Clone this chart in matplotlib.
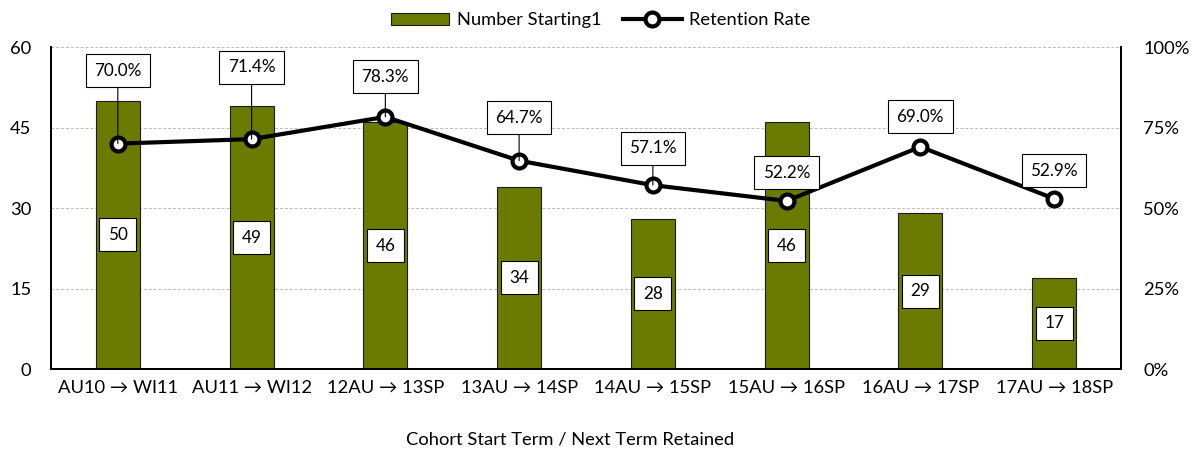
import matplotlib
matplotlib.use("Agg")
import matplotlib.pyplot as plt
from matplotlib.ticker import FuncFormatter

plt.rcParams['font.family'] = ['Lato', 'DejaVu Sans']

categories = ["AU10 \u2192 WI11", "AU11 \u2192 WI12", "12AU \u2192 13SP", "13AU \u2192 14SP",
              "14AU \u2192 15SP", "15AU \u2192 16SP", "16AU \u2192 17SP", "17AU \u2192 18SP"]
number_starting = [50, 49, 46, 34, 28, 46, 29, 17]
retention_rate = [0.700, 0.714, 0.783, 0.647, 0.571, 0.522, 0.690, 0.529]

# label layout (pixel offsets above point) and whether to draw leader line
label_offsets = [73, 72, 40, 43, 37, 28, 30, 28]
leader = [True, True, True, True, True, False, False, False]

bar_color = "#6B7A00"

fig = plt.figure(figsize=(11.96, 4.53), dpi=100)
ax = fig.add_axes([0.0426, 0.1854, 0.8947, 0.7108])
ax2 = ax.twinx()

x = list(range(len(categories)))
ax.bar(x, number_starting, width=0.33, color=bar_color, edgecolor="#1a1a1a", linewidth=0.8, zorder=2,
       label="Number Starting1")
ax.set_ylim(0, 60)
ax.set_yticks([0, 15, 30, 45, 60])
ax.set_xlim(-0.5, len(categories) - 0.5)
ax.set_xticks(x)
ax.set_xticklabels(categories)
ax.grid(axis='y', color='#b8b8b8', linestyle=(0, (3, 2)), linewidth=0.7, zorder=0)
ax.set_axisbelow(True)
ax.tick_params(axis='both', length=0, labelsize=13.2, pad=8)
ax.tick_params(axis='y', pad=14)
for s in ['top']:
    ax.spines[s].set_visible(False)
    ax2.spines[s].set_visible(False)
for s in ['left', 'right', 'bottom']:
    ax2.spines[s].set_linewidth(1.3)
    ax.spines[s].set_linewidth(1.3)

for xi, v in zip(x, number_starting):
    ax.text(xi, v / 2, f"{v}", ha='center', va='center', fontsize=12.3, zorder=5,
            bbox=dict(boxstyle='square,pad=0.5', fc='white', ec='black', lw=0.8))

ax2.plot(x, retention_rate, color='black', linewidth=3, marker='o', markersize=10,
         markerfacecolor='white', markeredgecolor='black', markeredgewidth=3, zorder=4,
         label="Retention Rate")
ax2.set_ylim(0, 1.0)
ax2.set_yticks([0, 0.25, 0.5, 0.75, 1.0])
ax2.yaxis.set_major_formatter(FuncFormatter(lambda v, p: f"{v*100:.0f}%"))
ax2.tick_params(axis='y', length=0, labelsize=13.2, pad=16)

for xi, r, off, ld in zip(x, retention_rate, label_offsets, leader):
    ax2.annotate(f"{r*100:.1f}%", xy=(xi, r), xytext=(0, off), textcoords='offset pixels',
                 ha='center', va='center', fontsize=12.3, zorder=6,
                 bbox=dict(boxstyle='square,pad=0.5', fc='white', ec='black', lw=0.8),
                 arrowprops=dict(arrowstyle='-', color='black', lw=0.8, shrinkA=0, shrinkB=0) if ld else None)

ax.set_xlabel("Cohort Start Term / Next Term Retained", fontsize=13.2)
ax.xaxis.set_label_coords((570 - 51) / 1070, -0.195)

h1, l1 = ax.get_legend_handles_labels()
h2, l2 = ax2.get_legend_handles_labels()
fig.legend(h1 + h2, l1 + l2, loc='center', bbox_to_anchor=(0.502, 0.955), ncol=2, frameon=False,
           fontsize=13.2, handlelength=3.2, columnspacing=1.2, handletextpad=0.4)

fig.savefig("out.png", dpi=100)
